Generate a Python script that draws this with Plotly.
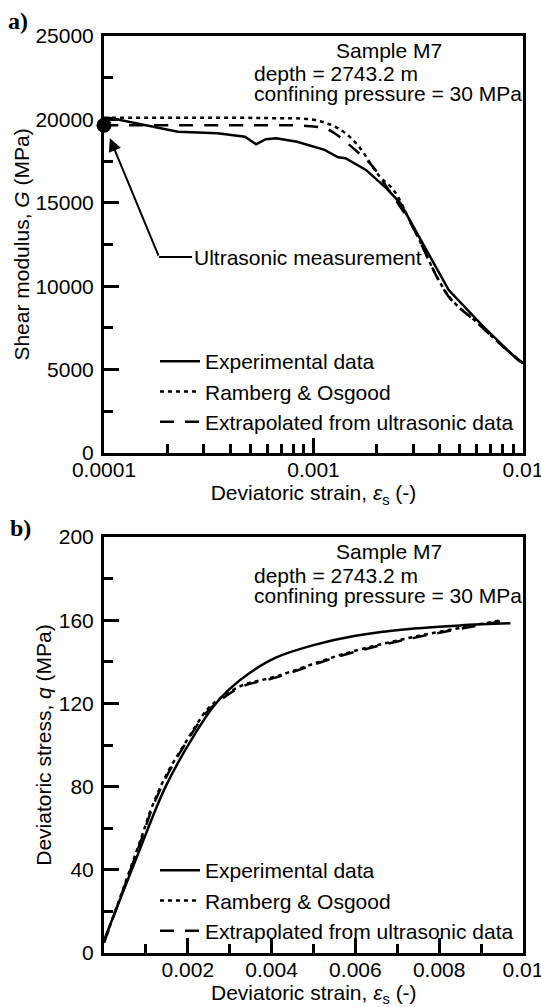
import plotly.graph_objects as go

W, H = 541, 1007

# panel a) shear modulus against deviatoric strain (log strain axis)
strain_a_exp = [1.0e-4, 1.06e-4, 2.25e-4, 3.48e-4, 4.71e-4, 5.32e-4, 5.92e-4, 6.63e-4,
                8.34e-4, 1.13e-3, 1.31e-3, 1.42e-3, 1.78e-3, 2.23e-3, 2.60e-3,
                3.39e-3, 4.42e-3, 6.47e-3, 9.45e-3, 1.0e-2]
g_exp = [19900, 20100, 19260, 19170, 18960, 18510, 18810, 18870,
         18660, 18170, 17730, 17670, 16970, 15870, 14970,
         12370, 9770, 7570, 5580, 5380]

strain_a_ro = [1.0e-4, 3.0e-4, 6.0e-4, 9.7e-4, 1.22e-3, 1.42e-3, 1.65e-3, 2.07e-3,
               2.41e-3, 3.03e-3, 4.42e-3, 6.0e-3, 8.0e-3, 1.0e-2]
g_ro = [20100, 20100, 20080, 20000, 19660, 19170, 18360, 16570,
        15770, 13370, 9400, 7850, 6400, 5380]

strain_a_ext = [1.0e-4, 5.0e-4, 9.0e-4, 1.13e-3, 1.26e-3, 1.65e-3, 1.92e-3, 2.23e-3,
                2.91e-3, 4.42e-3, 6.0e-3, 8.0e-3, 1.0e-2]
g_ext = [19650, 19650, 19620, 19470, 19170, 17970, 17170, 15970,
         13770, 9370, 7850, 6400, 5380]

ultrasonic_strain = [1.0e-4]
ultrasonic_g = [19650]

# panel b) deviatoric stress against deviatoric strain
strain_b_exp = [0.0, 0.0008, 0.00147, 0.00213, 0.00263, 0.0030, 0.0035, 0.0041,
                0.0050, 0.0060, 0.0074, 0.0085, 0.0097]
q_exp = [6, 47, 80, 104, 119, 127, 135, 142, 148, 152.5, 156, 157.5, 158.5]

strain_b_ro = [0.0, 0.0009, 0.00114, 0.00147, 0.00197, 0.00246, 0.00271, 0.00328,
               0.00411, 0.00576, 0.0074, 0.0095]
q_ro = [5, 56, 70, 85, 102, 117, 121.5, 128.5, 133, 144, 152, 160]

strain_b_ext = [0.0, 0.0009, 0.00114, 0.00147, 0.00197, 0.00246, 0.00271, 0.00328,
                0.00411, 0.00576, 0.0074, 0.0095]
q_ext = [5, 55, 69, 84, 101.5, 116, 120.5, 128, 132.5, 143.5, 151.5, 159.5]

g_ticks = [0, 5000, 10000, 15000, 20000, 25000]
q_ticks = [0, 40, 80, 120, 160, 200]
log_ticks = [1e-4, 1e-3, 1e-2]
log_ticktext = ["0.0001", "0.001", "0.01"]
log_minor = [m * 10.0 ** e for e in (-4, -3) for m in range(2, 10)]
lin_ticks = [0.002, 0.004, 0.006, 0.008, 0.01]
lin_ticktext = ["0.002", "0.004", "0.006", "0.008", "0.01"]
lin_minor = [0.001, 0.003, 0.005, 0.007, 0.009]

STRAIN_TITLE = "Deviatoric strain, <i>ε</i><sub>s</sub> (-)"
FONT = "Liberation Sans, Arial, sans-serif"
SERIF = "Liberation Serif, Times New Roman, serif"
FS = 21
DOT = "4px,4px"
DASH = "14px,11px"


def px(x):
    return x / W


def py(y):
    return 1 - y / H


def _line(x, y, name, dash, legend, shape="linear"):
    return go.Scatter(
        x=x, y=y, mode="lines", name=name,
        line={"color": "black", "width": 2.5, "dash": dash, "shape": shape},
        legend=legend,
    )


fig = go.Figure()
fig.add_trace(_line(strain_a_exp, g_exp, "Experimental data", "solid", "legend"))
fig.add_trace(_line(strain_a_ro, g_ro, "Ramberg & Osgood", DOT, "legend", "spline"))
fig.add_trace(_line(strain_a_ext, g_ext, "Extrapolated from ultrasonic data", DASH,
                    "legend", "spline"))
fig.add_trace(go.Scatter(
    x=ultrasonic_strain, y=ultrasonic_g, mode="markers", cliponaxis=False,
    marker={"color": "black", "size": 15}, showlegend=False,
))

for tr in [
    _line(strain_b_exp, q_exp, "Experimental data", "solid", "legend2", "spline"),
    _line(strain_b_ro, q_ro, "Ramberg & Osgood", DOT, "legend2", "spline"),
    _line(strain_b_ext, q_ext, "Extrapolated from ultrasonic data", DASH, "legend2", "spline"),
]:
    tr.update(xaxis="x2", yaxis="y2")
    fig.add_trace(tr)

axis_style = dict(
    showline=True, linecolor="black", linewidth=3, mirror=True,
    ticks="inside", ticklen=15, tickwidth=3, tickcolor="black",
    showgrid=False, zeroline=False, automargin=False,
    ticklabeloverflow="allow",
    tickfont={"size": FS, "color": "black"},
    title_font={"size": FS, "color": "black"},
)
minor_style = dict(ticks="inside", ticklen=9, tickwidth=3, tickcolor="black", showgrid=False)

x_dom = [px(104), px(523)]
legend_style = dict(
    xanchor="left", yanchor="top", bgcolor="rgba(0,0,0,0)",
    font={"size": FS, "color": "black"}, itemwidth=40,
)

fig.update_layout(
    width=W, height=H,
    margin={"l": 0, "r": 0, "t": 0, "b": 0},
    paper_bgcolor="white", plot_bgcolor="white",
    font={"family": FONT, "size": FS, "color": "black"},
    xaxis=dict(
        axis_style, domain=x_dom, anchor="y", type="log", range=[-4, -2],
        tickvals=log_ticks, ticktext=log_ticktext, ticklabelstandoff=-4,
        minor=dict(minor_style, tickvals=log_minor),
        title=dict(text=STRAIN_TITLE, standoff=4),
    ),
    yaxis=dict(
        axis_style, domain=[py(453), py(36)], anchor="x", range=[0, 25000],
        tickvals=g_ticks, ticktext=[str(v) for v in g_ticks], ticklabelstandoff=3,
        minor=dict(minor_style, dtick=2500),
        title=dict(text="Shear modulus, <i>G</i> (MPa)", standoff=1),
    ),
    xaxis2=dict(
        axis_style, domain=x_dom, anchor="y2", range=[0, 0.01],
        tickvals=lin_ticks, ticktext=lin_ticktext, ticklabelstandoff=-4,
        minor=dict(minor_style, tickvals=lin_minor),
    ),
    yaxis2=dict(
        axis_style, domain=[py(953), py(537)], anchor="x2", range=[0, 200],
        tickvals=q_ticks, ticktext=[str(v) for v in q_ticks], ticklabelstandoff=3,
        minor=dict(minor_style, dtick=20),
        title=dict(text="Deviatoric stress, <i>q</i> (MPa)", standoff=2),
    ),
    legend=dict(legend_style, x=px(155), y=py(341)),
    legend2=dict(legend_style, x=px(155), y=py(850)),
)

# bottom x title sits right at the figure edge, so place it directly
fig.add_annotation(text=STRAIN_TITLE, xref="paper", yref="paper",
                   x=(x_dom[0] + x_dom[1]) / 2, y=py(994),
                   xanchor="center", yanchor="middle", showarrow=False)

# sample information boxes
for dy in (0, 501):
    fig.add_annotation(text="Sample M7", xref="paper", yref="paper",
                       x=px(389), y=py(50 + dy), xanchor="center", yanchor="middle",
                       showarrow=False)
    fig.add_annotation(text="depth = 2743.2 m", xref="paper", yref="paper",
                       x=px(252), y=py(74 + dy), xanchor="left", yanchor="middle",
                       showarrow=False)
    fig.add_annotation(text="confining pressure = 30 MPa", xref="paper", yref="paper",
                       x=px(252), y=py(94 + dy), xanchor="left", yanchor="middle",
                       showarrow=False)

# panel letters
fig.add_annotation(text="<b>a)</b>", xref="paper", yref="paper", x=px(6), y=py(21),
                   xanchor="left", yanchor="middle", showarrow=False,
                   font={"family": SERIF, "size": 24})
fig.add_annotation(text="<b>b)</b>", xref="paper", yref="paper", x=px(8), y=py(528),
                   xanchor="left", yanchor="middle", showarrow=False,
                   font={"family": SERIF, "size": 24})

# ultrasonic measurement pointer (log axis annotations use log10 positions)
fig.add_annotation(text="", x=-3.972, y=18870, ax=-3.737, ay=11750,
                   xref="x", yref="y", axref="x", ayref="y",
                   showarrow=True, arrowhead=2, arrowsize=1.3, arrowwidth=2, arrowcolor="black")
fig.add_annotation(text="Ultrasonic measurement", x=-3.737, y=11750, ax=-3.58, ay=11750,
                   xref="x", yref="y", axref="x", ayref="y", xanchor="left",
                   showarrow=True, arrowhead=0, arrowwidth=2, arrowcolor="black")

# drop the browser's default body margin so the figure sits at the page origin
fig.write_html(
    "out.html",
    config={"displayModeBar": False},
    post_script="document.body.style.margin = '0';",
)
